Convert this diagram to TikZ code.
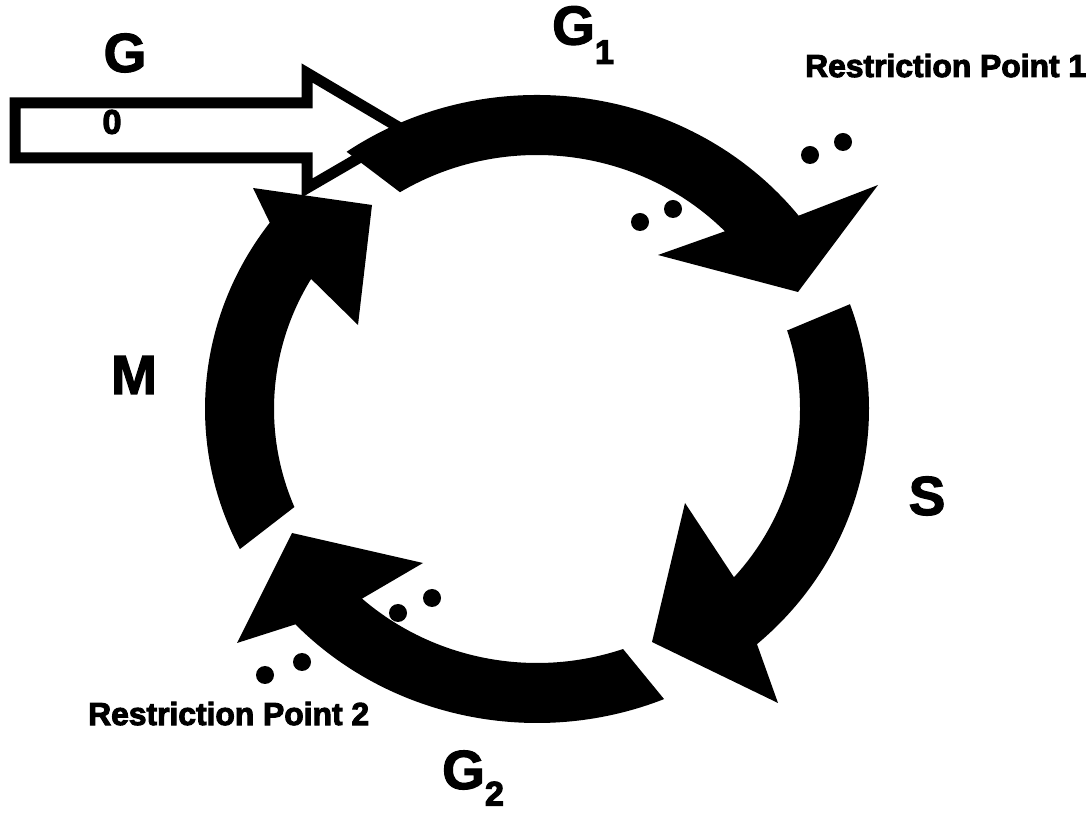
\documentclass[tikz,border=0pt]{standalone}
\usepackage{fontspec}
\setmainfont{Liberation Sans}
\newcommand{\heavy}[2][1.2]{\special{pdf:literal q 2 Tr #1 w}#2\special{pdf:literal Q}}
\begin{document}
\begin{tikzpicture}[x=1pt,y=1pt,
  phase/.style={inner sep=0pt,font=\fontsize{55}{55}\selectfont\bfseries},
  sub/.style={inner sep=0pt,font=\fontsize{34}{34}\selectfont\bfseries},
  rp/.style={inner sep=0pt,anchor=base west,font=\fontsize{31.8}{32}\selectfont\bfseries},
  blk/.style={fill=black},
  dot/.style={fill=black}]
\useasboundingbox (0,0) rectangle (1091,816);
\fill[white] (0,0) rectangle (1091,816);
% G0 entry arrow (outline)
\draw[line width=11pt,fill=white,line join=miter]
  (15,713) -- (307,713) -- (307,743) -- (405,685) -- (307,628) -- (307,658) -- (15,658) -- cycle;
% G1 arrow
\fill[blk] ({537+332*cos(125)},{407+314*sin(125)})
  arc[start angle=125,end angle=38,x radius=332pt,y radius=314pt]
  -- (878,631) -- (798,524) -- (658,561)
  -- ({537+263*cos(44.4)},{407+254*sin(44.4)})
  arc[start angle=44.4,end angle=121.4,x radius=263pt,y radius=254pt] -- cycle;
% S arrow
\fill[blk] ({537+332*cos(19.5)},{407+314*sin(19.5)})
  arc[start angle=19.5,end angle=-48.5,x radius=332pt,y radius=314pt]
  -- (778,113) -- (652,174) -- (685,313)
  -- ({537+263*cos(-41.5)},{407+254*sin(-41.5)})
  arc[start angle=-41.5,end angle=18,x radius=263pt,y radius=254pt] -- cycle;
% G2 arrow
\fill[blk] ({537+332*cos(-67.5)},{407+314*sin(-67.5)})
  arc[start angle=-67.5,end angle=-136.7,x radius=332pt,y radius=314pt]
  -- (237,173) -- (292,283) -- (423,253)
  -- ({537+263*cos(-131.7)},{407+254*sin(-131.7)})
  arc[start angle=-131.7,end angle=-70.9,x radius=263pt,y radius=254pt] -- cycle;
% M arrow
\fill[blk] ({537+332*cos(206.5)},{407+314*sin(206.5)})
  arc[start angle=206.5,end angle=143.6,x radius=332pt,y radius=314pt]
  -- (253,628) -- (372,611) -- (358,491)
  -- ({537+263*cos(149.2)},{407+254*sin(149.2)})
  arc[start angle=149.2,end angle=202.7,x radius=263pt,y radius=254pt] -- cycle;
% restriction point dots
\fill[dot] (640,594) circle[radius=9pt];
\fill[dot] (673,607) circle[radius=9pt];
\fill[dot] (810,661) circle[radius=9pt];
\fill[dot] (843,674) circle[radius=9pt];
\fill[dot] (398,203) circle[radius=9pt];
\fill[dot] (432,218) circle[radius=9pt];
\fill[dot] (265,141) circle[radius=9pt];
\fill[dot] (302,154) circle[radius=9pt];
% labels
\node[phase] (g0) at (125,763) {\heavy{G}};
\node[sub] (g0s) at (112,694) {\heavy{0}};
\node[phase,anchor=west] (g1) at (552,781) {\heavy{G\raisebox{-0.35em}{\fontsize{34}{34}\selectfont 1}}};
\node[phase,anchor=west] (g2) at (442,38) {\heavy{G\raisebox{-0.3em}{\fontsize{34}{34}\selectfont 2}}};
\node[phase] (m) at (134,441) {\heavy{M}};
\node[phase] (s) at (927,320) {\heavy{S}};
\node[rp] (rp1) at (805,739) {\heavy[1]{Restriction Point 1}};
\node[rp] (rp2) at (88,91) {\heavy[1]{Restriction Point 2}};
\end{tikzpicture}
\end{document}
